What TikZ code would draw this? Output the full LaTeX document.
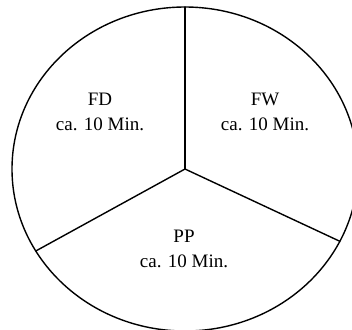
\documentclass[tikz,border=0pt]{standalone}
\usepackage{fontspec}
\setmainfont{Liberation Serif}
\usetikzlibrary{positioning, calc}

\tikzset{
  rim/.style={draw=black, line width=0.7pt},
  spoke/.style={draw=black, line width=0.7pt},
  slicelabel/.style={align=center, inner sep=0pt, font=\fontsize{9.5}{12.5}\selectfont}
}

\begin{document}
\begin{tikzpicture}[x=0.5pt, y=0.5pt, line join=round, line cap=round]

    \useasboundingbox (0,0) rectangle (352,329);

    % Centre and rim points
    \coordinate (c) at (185,160);
    \coordinate (top) at ($(c)+(90:173 and 162)$);
    \coordinate (lowleft) at ($(c)+(210.4:173 and 162)$);
    \coordinate (lowright) at ($(c)+(333.5:173 and 162)$);

    % Outer circle
    \draw[rim] (c) ellipse [x radius=173, y radius=162];

    % Spokes
    \draw[spoke] (c) -- (top);
    \draw[spoke] (c) -- (lowleft);
    \draw[spoke] (c) -- (lowright);

    % Slice labels
    \node[slicelabel] (fd) at (100,217) {FD\\ca. 10 Min.};
    \node[slicelabel] (fw) at (265,217) {FW\\ca. 10 Min.};
    \node[slicelabel] (pp) at (184,80) {PP\\ca. 10 Min.};
  \end{tikzpicture}
\end{document}
